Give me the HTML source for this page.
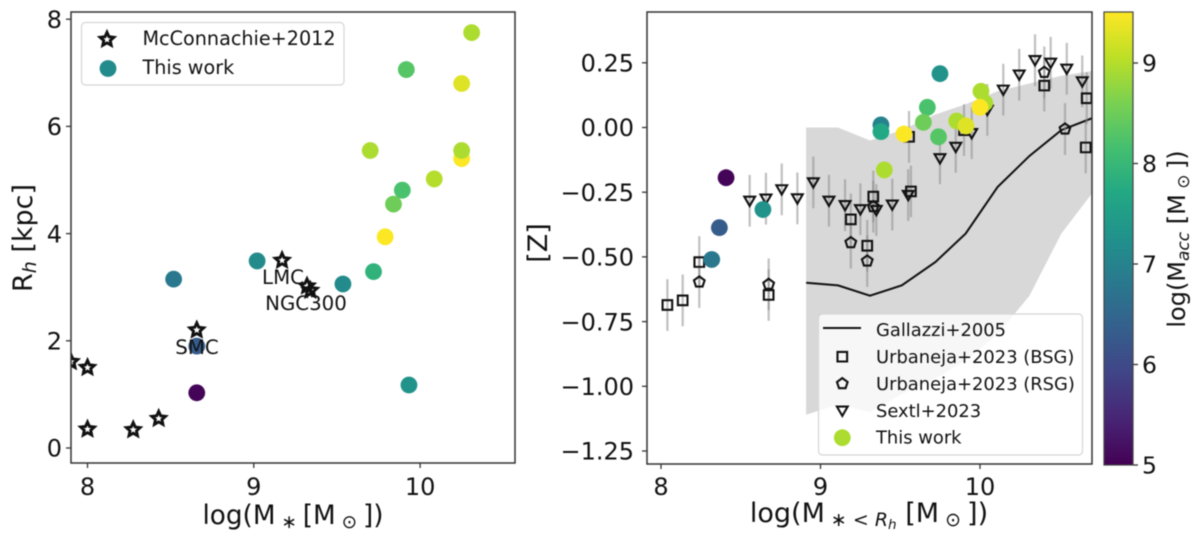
<!DOCTYPE html>
<html lang="en">
<head>
<meta charset="utf-8">
<title>Stellar mass, half-light radius and metallicity chart</title>
<style>
html,body{margin:0;padding:0;background:#fff;width:1200px;height:544px;overflow:hidden}
svg{display:block;filter:blur(0.6px)}
text{font-family:"DejaVu Sans","Liberation Sans",sans-serif;fill:#111}
</style>
</head>
<body>
<svg id="chart" xmlns="http://www.w3.org/2000/svg" width="1200" height="544" viewBox="0 0 1200 544">
  <defs>
    <clipPath id="clip-left"><rect x="71" y="12" width="444" height="451"/></clipPath>
    <clipPath id="clip-right"><rect x="647" y="12" width="445" height="452"/></clipPath>
    <linearGradient id="viridis-gradient" x1="0" y1="1" x2="0" y2="0"></linearGradient>
  </defs>
  <g id="left-marks" clip-path="url(#clip-left)"></g>
  <g id="right-marks" clip-path="url(#clip-right)"></g>

  <rect x="71" y="12" width="444" height="451" fill="none" stroke="#333" stroke-width="1.5"/>
  <rect x="647" y="12" width="445" height="452" fill="none" stroke="#333" stroke-width="1.5"/>
  <g id="axes"></g>

  <text x="283" y="284" font-size="19.8" text-anchor="middle">LMC</text>
  <text x="306" y="310" font-size="19.8" text-anchor="middle">NGC300</text>
  <text x="197" y="354" font-size="19.8" text-anchor="middle">SMC</text>

  <text transform="translate(32,238) rotate(-90)" font-size="27" text-anchor="middle">R<tspan font-size="19" font-style="italic" dy="4">h</tspan><tspan dy="-4"> [kpc]</tspan></text>
  <text x="293" y="524" font-size="26.3" text-anchor="middle">log(M<tspan font-size="18.5" dy="4"> ∗ </tspan><tspan dy="-4">[M</tspan><tspan font-size="18.5" dy="4"> ⊙ </tspan><tspan dy="-4">])</tspan></text>
  <text transform="translate(547,243) rotate(-90)" font-size="27" text-anchor="middle">[Z]</text>
  <text x="869" y="522" font-size="27" text-anchor="middle">log(M<tspan font-size="19" dy="4"> ∗ &lt; </tspan><tspan font-size="19" font-style="italic">R</tspan><tspan font-size="13.5" font-style="italic" dy="3">h</tspan><tspan dy="-7"> [M</tspan><tspan font-size="19" dy="4"> ⊙ </tspan><tspan dy="-4">])</tspan></text>

  <rect x="1104" y="12" width="29" height="453" fill="url(#viridis-gradient)" stroke="#444" stroke-width="1.2"/>
  <text transform="translate(1185,239) rotate(-90)" font-size="24" text-anchor="middle">log(M<tspan font-size="17" font-style="italic" dy="4">acc</tspan><tspan dy="-4"> [M</tspan><tspan font-size="17" dy="4"> ⊙ </tspan><tspan dy="-4">])</tspan></text>

  <g id="left-legend">
    <rect x="81.5" y="22.5" width="262.5" height="62.5" rx="4" fill="#fff" fill-opacity="0.8" stroke="#d5d5d5" stroke-width="1.2"/>
    <text x="142.5" y="45" font-size="19.2">McConnachie+2012</text>
    <text x="142.5" y="74" font-size="19.2">This work</text>
  </g>
  <g id="right-legend">
    <rect x="818.5" y="314" width="264" height="141" rx="4" fill="#fff" fill-opacity="0.8" stroke="#d5d5d5" stroke-width="1.2"/>
    <line x1="823" x2="861" y1="328" y2="328" stroke="#111" stroke-width="2"/>
    <text x="876" y="336" font-size="17.9">Gallazzi+2005</text>
    <text x="876" y="363" font-size="17.9">Urbaneja+2023 (BSG)</text>
    <text x="876" y="390" font-size="17.9">Urbaneja+2023 (RSG)</text>
    <text x="876" y="417" font-size="17.9">Sextl+2023</text>
    <text x="876" y="443.5" font-size="17.9">This work</text>
  </g>
</svg>
<script>
// ---- Left panel data ----
const starX = [7.90, 8.00, 8.00, 8.275, 8.428, 8.657, 9.17, 9.32, 9.34];
const starY = [1.61, 1.50, 0.35, 0.34, 0.55, 2.20, 3.50, 3.02, 2.94];
const leftCircleX = [10.31, 9.917, 10.25, 9.70, 10.25, 10.25, 10.085, 9.893, 9.84, 9.79, 9.72, 9.02, 9.536, 8.518, 8.657, 8.657, 9.933];
const leftCircleY = [7.75, 7.06, 6.80, 5.55, 5.40, 5.55, 5.02, 4.81, 4.55, 3.94, 3.29, 3.49, 3.06, 3.15, 1.90, 1.03, 1.175];
const leftCircleC = [8.95, 8.3, 9.3, 8.95, 9.5, 8.95, 9.0, 8.2, 8.5, 9.5, 7.9, 7.15, 7.15, 6.8, 6.3, 5.05, 7.3];

// ---- Right panel data ----
const gallazziMass = [8.91, 9.11, 9.31, 9.51, 9.72, 9.91, 10.11, 10.31, 10.51, 10.72];
const gallazziMedian = [-0.60, -0.61, -0.65, -0.61, -0.52, -0.41, -0.23, -0.11, -0.01, 0.04];
const gallazziLow = [-1.11, -1.07, -1.10, -1.03, -0.97, -0.90, -0.80, -0.65, -0.41, -0.24];
const gallazziHigh = [0.00, 0.00, -0.05, -0.01, 0.05, 0.09, 0.14, 0.17, 0.20, 0.22];

const bsgX = [8.04, 8.136, 8.24, 8.675, 9.19, 9.293, 9.331, 9.567, 9.555, 9.90, 10.403, 10.669, 10.663];
const bsgZ = [-0.686, -0.668, -0.52, -0.647, -0.355, -0.457, -0.267, -0.247, -0.036, -0.01, 0.162, 0.113, -0.077];
const bsgErr = [0.1, 0.1, 0.1, 0.1, 0.1, 0.1, 0.1, 0.1, 0.1, 0.1, 0.1, 0.1, 0.1];

const rsgX = [8.24, 8.675, 9.19, 9.293, 9.331, 10.403, 10.533];
const rsgZ = [-0.597, -0.606, -0.445, -0.516, -0.306, 0.213, -0.006];
const rsgErr = [0.1, 0.1, 0.1, 0.1, 0.1, 0.1, 0.1];

const sextlX = [8.556, 8.658, 8.757, 8.855, 8.955, 9.053, 9.154, 9.25, 9.35, 9.45, 9.55, 9.749, 9.848, 9.948, 10.046, 10.146, 10.246, 10.345, 10.443, 10.544, 10.641];
const sextlZ = [-0.283, -0.275, -0.239, -0.274, -0.212, -0.283, -0.30, -0.316, -0.319, -0.298, -0.261, -0.119, -0.075, -0.022, 0.068, 0.146, 0.204, 0.26, 0.25, 0.227, 0.178];
const sextlErr = [0.1, 0.1, 0.1, 0.1, 0.1, 0.1, 0.1, 0.1, 0.1, 0.1, 0.1, 0.1, 0.1, 0.1, 0.1, 0.1, 0.1, 0.1, 0.1, 0.1, 0.1];

const rightCircleX = [8.408, 8.366, 8.318, 8.639, 9.749, 9.67, 9.645, 9.74, 9.379, 9.379, 9.523, 9.40, 10.006, 10.03, 10.0, 9.854, 9.912];
const rightCircleZ = [-0.194, -0.387, -0.51, -0.317, 0.208, 0.078, 0.02, -0.036, 0.01, -0.016, -0.025, -0.164, 0.14, 0.095, 0.078, 0.025, 0.006];
const rightCircleC = [5.05, 6.3, 6.8, 7.3, 7.3, 8.2, 8.5, 8.3, 7.0, 7.7, 9.5, 8.95, 8.95, 8.95, 9.5, 8.95, 9.3];

// ---- Tick labels ----
const leftXTicks = [8, 9, 10];
const leftYTicks = [0, 2, 4, 6, 8];
const rightXTicks = [8, 9, 10];
const rightYTicks = [0.25, 0, -0.25, -0.5, -0.75, -1, -1.25];
const colorTicks = [5, 6, 7, 8, 9];
const viridisStops = ['#440154', '#482475', '#414487', '#355f8d', '#2a788e', '#21918c', '#22a884', '#44bf70', '#7ad151', '#bddf26', '#fde725'];

// ---- Axis functions ----
const xLeft = v => 87.5 + (v - 8) * 166.3;
const yLeft = v => 448 - v * 53.6;
const xRight = v => 661 + (v - 8) * 159.5;
const yRight = v => 127.5 - v * 258.8;
const yColor = v => 465 - (v - 5) * 100.5;

const NS = 'http://www.w3.org/2000/svg';
const svg = document.getElementById('chart');
const leftMarks = document.getElementById('left-marks');
const rightMarks = document.getElementById('right-marks');
const axes = document.getElementById('axes');
const leftLegend = document.getElementById('left-legend');
const rightLegend = document.getElementById('right-legend');

function hex(c) {
  return [1, 3, 5].map(i => parseInt(c.substr(i, 2), 16));
}
function viridis(v) {
  const t = Math.max(0, Math.min(1, (v - 5) / 4.51)) * (viridisStops.length - 1);
  const i = Math.min(Math.floor(t), viridisStops.length - 2);
  const a = hex(viridisStops[i]);
  const b = hex(viridisStops[i + 1]);
  const f = t - i;
  return 'rgb(' + a.map((q, k) => Math.round(q + (b[k] - q) * f)).join(',') + ')';
}
function shape(tag, parent) {
  const el = document.createElementNS(NS, tag);
  parent.appendChild(el);
  return el;
}
function polygonAround(cx, cy, radii, n, startDeg) {
  const pts = [];
  for (let i = 0; i < n; i++) {
    const a = (startDeg + i * 360 / n) * Math.PI / 180;
    const r = radii[i % radii.length];
    pts.push((cx + r * Math.cos(a)).toFixed(2) + ',' + (cy + r * Math.sin(a)).toFixed(2));
  }
  return pts.join(' ');
}
function drawCircle(parent, cx, cy, fill, r) {
  const el = shape('circle', parent);
  el.setAttribute('cx', cx);
  el.setAttribute('cy', cy);
  el.setAttribute('r', r || 8.4);
  el.setAttribute('fill', fill);
  return el;
}
function drawPoly(parent, points, width, fill) {
  const el = shape('polygon', parent);
  el.setAttribute('points', points);
  el.setAttribute('fill', fill || 'none');
  el.setAttribute('stroke', '#111');
  el.setAttribute('stroke-width', width);
  el.setAttribute('stroke-linejoin', 'miter');
  return el;
}
const starPts = (x, y) => polygonAround(x, y, [7.2, 3.4], 10, -90);
const pentPts = (x, y) => polygonAround(x, y, [5.6], 5, -90);
const triPts = (x, y) => polygonAround(x, y - 1, [6.2], 3, 90);
const squarePts = (x, y) => polygonAround(x, y, [6.8], 4, 45);

// ---- Colorbar gradient ----
const gradient = document.getElementById('viridis-gradient');
viridisStops.forEach((c, i) => {
  const st = shape('stop', gradient);
  st.setAttribute('offset', i / (viridisStops.length - 1));
  st.setAttribute('stop-color', c);
});

// ---- Ticks ----
function drawTick(x1, y1, x2, y2, label, tx, ty, anchor, name, size) {
  const ln = shape('line', axes);
  ln.setAttribute('x1', x1);
  ln.setAttribute('y1', y1);
  ln.setAttribute('x2', x2);
  ln.setAttribute('y2', y2);
  ln.setAttribute('stroke', '#333');
  ln.setAttribute('stroke-width', 1.3);
  
  
  const t = shape('text', axes);
  t.setAttribute('x', tx);
  t.setAttribute('y', ty);
  t.setAttribute('text-anchor', anchor);
  t.setAttribute('font-size', size || 24);
  t.textContent = label;
  
  
}
const fmtZ = v => (v < 0 ? '\u2212' : '') + Math.abs(v).toFixed(2);
leftXTicks.forEach(v => drawTick(xLeft(v), 463, xLeft(v), 468, String(v), xLeft(v), 495, 'middle', 'left-x-axis'));
leftYTicks.forEach(v => drawTick(71, yLeft(v), 66, yLeft(v), String(v), 62, yLeft(v) + 8.7, 'end', 'left-y-axis'));
rightXTicks.forEach(v => drawTick(xRight(v), 464, xRight(v), 469, String(v), xRight(v), 495, 'middle', 'right-x-axis'));
rightYTicks.forEach(v => drawTick(647, yRight(v), 642, yRight(v), fmtZ(v), 634, yRight(v) + 8.7, 'end', 'right-y-axis'));
colorTicks.forEach(v => drawTick(1133, yColor(v), 1138, yColor(v), String(v), 1142, yColor(v) + 8.7, 'start', 'colorbar', 23.5));

// ---- Left panel marks ----
starX.forEach((v, i) => {
  const el = drawPoly(leftMarks, starPts(xLeft(v), yLeft(starY[i])), 2.9);
  
  
});
leftCircleX.forEach((v, i) => {
  const el = drawCircle(leftMarks, xLeft(v), yLeft(leftCircleY[i]), viridis(leftCircleC[i]));
  
  
});

// ---- Right panel marks ----
const band = shape('polygon', rightMarks);
const bandTop = gallazziMass.map((m, i) => xRight(m) + ',' + yRight(gallazziHigh[i]));
const bandBottom = gallazziMass.map((m, i) => xRight(m) + ',' + yRight(gallazziLow[i])).reverse();
band.setAttribute('points', bandTop.concat(bandBottom).join(' '));
band.setAttribute('fill', '#d8d8d8');



const medianLine = shape('polyline', rightMarks);
medianLine.setAttribute('points', gallazziMass.map((m, i) => xRight(m) + ',' + yRight(gallazziMedian[i])).join(' '));
medianLine.setAttribute('fill', 'none');
medianLine.setAttribute('stroke', '#111');
medianLine.setAttribute('stroke-width', 2);



function drawError(x, z, e) {
  const el = shape('line', rightMarks);
  el.setAttribute('x1', xRight(x));
  el.setAttribute('x2', xRight(x));
  el.setAttribute('y1', yRight(z + e));
  el.setAttribute('y2', yRight(z - e));
  el.setAttribute('stroke', '#8c8c8c');
  el.setAttribute('stroke-opacity', '0.55');
  el.setAttribute('stroke-width', 2.2);
  
  
}
bsgX.forEach((v, i) => drawError(v, bsgZ[i], bsgErr[i]));
rsgX.forEach((v, i) => drawError(v, rsgZ[i], rsgErr[i]));
sextlX.forEach((v, i) => drawError(v, sextlZ[i], sextlErr[i]));

sextlX.forEach((v, i) => {
  const el = drawPoly(rightMarks, triPts(xRight(v), yRight(sextlZ[i])), 2.1);
  
  
});
rsgX.forEach((v, i) => {
  const el = drawPoly(rightMarks, pentPts(xRight(v), yRight(rsgZ[i])), 2.1);
  
  
});
bsgX.forEach((v, i) => {
  const el = drawPoly(rightMarks, squarePts(xRight(v), yRight(bsgZ[i])), 2.1);
  
  
});
rightCircleX.forEach((v, i) => {
  const el = drawCircle(rightMarks, xRight(v), yRight(rightCircleZ[i]), viridis(rightCircleC[i]));
  
  
});

// ---- Legend markers ----
const lgStar = drawPoly(leftLegend, starPts(107, 39.5), 2.9);


const lgTeal = drawCircle(leftLegend, 108, 68.5, viridis(7.15));


const lgSquare = drawPoly(rightLegend, squarePts(842.3, 356.7), 2.1);


const lgPent = drawPoly(rightLegend, pentPts(842.3, 383.7), 2.1);


const lgTri = drawPoly(rightLegend, triPts(842.3, 410.7), 2.1);


const lgGreen = drawCircle(rightLegend, 842.3, 437.7, viridis(8.95));


</script>
</body>
</html>
